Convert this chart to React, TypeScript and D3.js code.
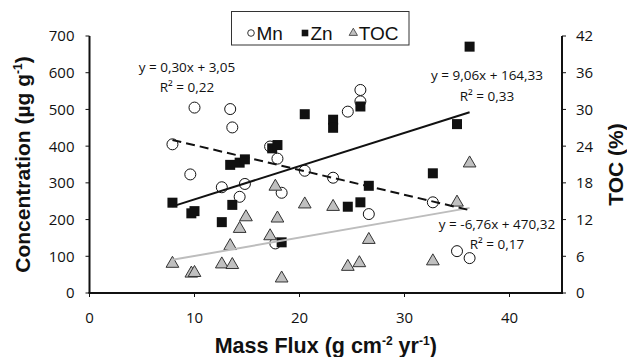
import * as d3 from 'd3';

// mass flux (g cm-2 yr-1) vs concentration
const MN: [number, number][] = [
  [7.9, 405], [9.6, 323], [10.0, 505], [12.6, 288], [13.4, 501], [13.6, 451],
  [14.3, 262], [14.8, 297], [17.2, 399], [17.9, 366], [17.7, 135], [18.3, 273],
  [20.5, 333], [23.2, 314], [24.6, 494], [25.8, 522], [25.8, 553], [26.6, 215],
  [32.7, 247], [35.0, 114], [36.2, 95],
];

const ZN: [number, number][] = [
  [7.9, 246], [9.7, 217], [10.0, 223], [12.6, 193], [13.4, 349], [13.6, 240],
  [14.3, 355], [14.8, 364], [17.4, 394], [17.9, 403], [18.3, 138], [20.5, 487],
  [23.2, 472], [23.2, 450], [24.6, 235], [25.8, 508], [25.8, 247], [26.6, 292],
  [32.7, 326], [35.0, 460], [36.2, 671],
];

// TOC in %, right axis
const TOC: [number, number][] = [
  [7.9, 4.8], [9.7, 3.2], [10.0, 3.3], [12.6, 4.7], [13.4, 7.7], [13.6, 4.6],
  [14.3, 10.5], [14.9, 12.4], [17.2, 9.3], [17.7, 17.4], [17.9, 12.2], [18.3, 2.4],
  [20.5, 14.5], [23.2, 14.1], [24.6, 4.3], [25.7, 4.9], [26.6, 8.7], [32.7, 5.2],
  [35.0, 14.8], [36.2, 21.2],
];

// trendlines as printed on the chart
const TREND_MN = { slope: -6.76, intercept: 470.32 };
const TREND_ZN = { slope: 9.06, intercept: 164.33 };
const TREND_TOC = { slope: 0.30, intercept: 3.05 };
const TREND_RANGE = [7.9, 36.2];

const X_TICKS = [0, 10, 20, 30, 40];
const Y_TICKS = [0, 100, 200, 300, 400, 500, 600, 700];
const Y2_TICKS = [0, 6, 12, 18, 24, 30, 36, 42];

const LEGEND = ['Mn', 'Zn', 'TOC'];

const W = 627;
const H = 357;
const NUM_FONT = '"Open Sans", sans-serif';
const SANS = '"Liberation Sans", Arial, sans-serif';

export default function App() {
  const x = d3.scaleLinear().domain([0, 45]).range([89.5, 562]);
  const y = d3.scaleLinear().domain([0, 700]).range([293, 36]);
  const y2 = d3.scaleLinear().domain([0, 42]).range([293, 36]);

  const tri = d3.symbol(d3.symbolTriangle, 70)();
  const triSmall = d3.symbol(d3.symbolTriangle, 30)();

  const trendLine = (t: { slope: number; intercept: number }, sy: d3.ScaleLinear<number, number>) =>
    d3.line<number>()
      .x(v => x(v))
      .y(v => sy(t.slope * v + t.intercept))(TREND_RANGE) ?? '';

  const [x0, x1] = x.range();
  const [yBottom, yTop] = y.range();

  const legendX = [251, 305, 353.3];

  return (
    <svg width={W} height={H} style={{ position: 'absolute', left: 0, top: 0, background: '#fff' }}>
      {/* markers */}
      {MN.map(([mx, my], i) => (
        <circle key={`mn-${i}`} cx={x(mx)} cy={y(my)} r={5.5} fill="#fff" stroke="#111" strokeWidth={1} />
      ))}
      {ZN.map(([zx, zy], i) => (
        <rect key={`zn-${i}`} x={x(zx) - 5} y={y(zy) - 5} width={10} height={10} fill="#111" />
      ))}
      {TOC.map(([tx, ty], i) => (
        <path key={`toc-${i}`} d={tri} transform={`translate(${x(tx)},${y2(ty)})`}
          fill="#c0c0c0" stroke="#333" strokeWidth={1} />
      ))}

      {/* trendlines */}
      <path d={trendLine(TREND_TOC, y2)} fill="none" stroke="#bdbdbd" strokeWidth={2} />
      <path d={trendLine(TREND_ZN, y)} fill="none" stroke="#111" strokeWidth={2} />
      <path d={trendLine(TREND_MN, y)} fill="none" stroke="#111" strokeWidth={2} strokeDasharray="9 5" />

      {/* equations */}
      <g fontFamily={NUM_FONT} fontSize={13.5} fill="#111" textAnchor="middle">
        <text x={187} y={72}>y = 0,30x + 3,05</text>
        <text x={187} y={92}>R² = 0,22</text>
        <text x={487} y={80}>y = 9,06x + 164,33</text>
        <text x={487} y={101}>R² = 0,33</text>
        <text x={497} y={229}>y = -6,76x + 470,32</text>
        <text x={497} y={249}>R² = 0,17</text>
      </g>

      {/* axes */}
      <line x1={x0} x2={x0} y1={yTop} y2={yBottom} stroke="#111" strokeWidth={2} />
      <line x1={x1} x2={x1} y1={yTop} y2={yBottom} stroke="#111" strokeWidth={2} />
      <line x1={x0 - 1} x2={x1 + 1} y1={yBottom} y2={yBottom} stroke="#111" strokeWidth={2} />

      {Y_TICKS.map(t => (
        <g key={`y-${t}`}>
          <line x1={x0 - 4} x2={x0} y1={y(t)} y2={y(t)} stroke="#111" strokeWidth={1} />
          <text x={x0 - 15} y={y(t)} dy="0.36em" textAnchor="end"
            fontFamily={NUM_FONT} fontSize={15} fill="#111">{t}</text>
        </g>
      ))}
      {Y2_TICKS.map(t => (
        <g key={`y2-${t}`}>
          <line x1={x1} x2={x1 + 4} y1={y2(t)} y2={y2(t)} stroke="#111" strokeWidth={1} />
          <text x={x1 + 14} y={y2(t)} dy="0.36em" textAnchor="start"
            fontFamily={NUM_FONT} fontSize={15} fill="#111">{t}</text>
        </g>
      ))}
      {X_TICKS.map(t => (
        <g key={`x-${t}`}>
          <line x1={x(t)} x2={x(t)} y1={yBottom} y2={yBottom + 4} stroke="#111" strokeWidth={1} />
          <text x={x(t)} y={318} dy="0.36em" textAnchor="middle"
            fontFamily={NUM_FONT} fontSize={15} fill="#111">{t}</text>
        </g>
      ))}

      {/* axis titles */}
      <text x={(x0 + x1) / 2} y={353} textAnchor="middle" fontFamily={SANS}
        fontWeight="bold" fontSize={21.5} fill="#111">
        Mass Flux (g cm<tspan fontSize={12} dy={-8}>-2</tspan>
        <tspan dy={8}> yr</tspan><tspan fontSize={12} dy={-8}>-1</tspan><tspan dy={8}>)</tspan>
      </text>
      <text transform={`translate(30,${(yTop + yBottom) / 2}) rotate(-90)`} textAnchor="middle"
        fontFamily={SANS} fontWeight="bold" fontSize={21} fill="#111">
        Concentration (µg g<tspan fontSize={12} dy={-8}>-1</tspan><tspan dy={8}>)</tspan>
      </text>
      <text transform={`translate(623,${(yTop + yBottom) / 2}) rotate(-90)`} textAnchor="middle"
        fontFamily={SANS} fontWeight="bold" fontSize={21} fill="#111">
        TOC (%)
      </text>

      {/* legend */}
      <rect x={231.5} y={11.5} width={177.5} height={33.5} fill="#fff" stroke="#333" strokeWidth={1} />
      <circle cx={legendX[0]} cy={33} r={3.3} fill="#fff" stroke="#333" strokeWidth={1} />
      <rect x={legendX[1] - 3.3} y={29.7} width={6.6} height={6.6} fill="#111" />
      <path d={triSmall} transform={`translate(${legendX[2]},${33})`} fill="#c0c0c0" stroke="#333" strokeWidth={0.8} />
      {LEGEND.map((name, i) => (
        <text key={name} x={legendX[i] + 5.5} y={39.5} fontFamily={SANS} fontSize={19} fill="#111">{name}</text>
      ))}
    </svg>
  );
}
